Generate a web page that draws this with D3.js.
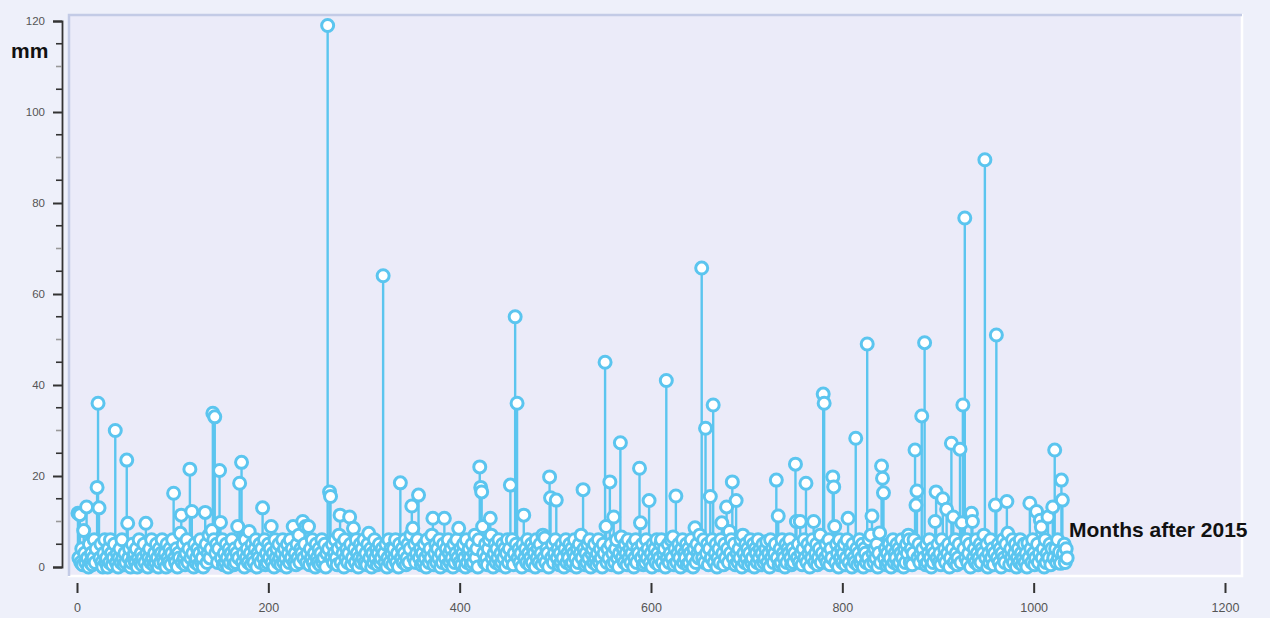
<!DOCTYPE html>
<html>
<head>
<meta charset="utf-8">
<script src="https://d3js.org/d3.v7.min.js"></script>
<style>
  html, body { margin: 0; padding: 0; background: #eef0fa; }
  svg { display: block; }
</style>
</head>
<body>
<div id="chart"></div>
<script>
// monthly rainfall (mm), one value per month starting at month 1
var rain = [
  // 1-30
  11.8, 2, 11.5, 1, 4, 0.5, 8, 3, 1, 13.2, 2, 0, 5, 1, 3, 0.5, 2, 6, 1, 4, 17.5, 36, 13, 2, 5, 1, 0, 3, 6, 1,
  // 31-60
  2, 0, 4, 1, 6, 3, 0.5, 2, 5, 30, 1, 3, 0, 2, 4, 1, 6, 2, 0.5, 3, 1, 23.5, 9.6, 2, 4, 0, 1, 5, 2, 3,
  // 61-90
  1, 4, 0, 2, 6, 1, 3, 0.5, 2, 5, 1, 9.6, 3, 0, 2, 4, 1, 6, 2, 0.5, 3, 1, 5, 2, 0, 4, 1, 3, 6, 2,
  // 91-120
  1, 3, 0, 5, 2, 1, 4, 0.5, 3, 6, 16.2, 2, 1, 4, 0, 3, 2, 7.4, 11.4, 1, 5, 2, 0.5, 3, 6, 1, 4, 21.5, 2, 12.2,
  // 121-150
  3, 0, 5, 1, 2, 4, 0.5, 3, 6, 1, 2, 0, 4, 12, 5, 1, 3, 7, 2, 4, 8, 33.8, 6, 33, 3, 5, 1, 4, 21.2, 9.8,
  // 151-180
  2, 6, 0.5, 3, 1, 5, 2, 0, 4, 1, 3, 6, 2, 0.5, 4, 1, 3, 8.9, 2, 18.4, 5, 23, 1, 3, 0, 6, 2, 4, 1, 7.8,
  // 181-210
  3, 0.5, 5, 2, 1, 4, 6, 0, 3, 2, 5, 1, 4, 13, 2, 6, 0.5, 3, 1, 5, 2, 4, 8.9, 1, 3, 0, 6, 2, 4, 1,
  // 211-240
  5, 2, 0.5, 3, 6, 1, 4, 2, 0, 5, 3, 1, 6, 2, 4, 8.9, 1, 3, 0.5, 5, 2, 7, 1, 4, 3, 10, 2, 5, 8.9, 1,
  // 241-270
  3, 8.9, 0.5, 4, 2, 6, 1, 3, 0, 5, 2, 1, 4, 0.5, 3, 6, 1, 2, 5, 0, 3, 119, 4, 16.5, 15.5, 2, 5, 1, 3, 6,
  // 271-300
  2, 0.5, 4, 7, 11.4, 1, 5, 3, 0, 6, 2, 4, 1, 3, 11, 5, 0.5, 2, 8.5, 4, 1, 6, 3, 0, 2, 5, 1, 4, 2, 6,
  // 301-330
  1, 3, 0.5, 5, 7.4, 2, 4, 0, 3, 1, 6, 2, 4, 0.5, 3, 5, 1, 2, 4, 64, 3, 1, 5, 0, 2, 6, 1, 4, 3, 0.5,
  // 331-360
  4, 2, 6, 1, 3, 0, 5, 18.5, 2, 4, 1, 3, 6, 0.5, 2, 5, 1, 4, 7, 13.4, 8.5, 2, 5, 1, 3, 6, 15.8, 2, 4, 0.5,
  // 361-390
  3, 1, 5, 2, 0, 6, 3, 1, 4, 2, 7, 10.7, 0.5, 3, 5, 1, 4, 2, 6, 0, 3, 1, 5, 10.7, 2, 4, 0.5, 6, 3, 1,
  // 391-420
  4, 2, 0, 5, 1, 3, 6, 2, 8.5, 1, 4, 0.5, 3, 5, 2, 0, 6, 1, 3, 4, 2, 0.5, 5, 1, 3, 7, 2, 4, 0, 6,
  // 421-450
  22, 17.5, 16.5, 8.9, 3, 1, 5, 2, 0.5, 4, 6, 10.7, 7, 2, 0, 3, 5, 1, 4, 2, 6, 0.5, 3, 1, 5, 2, 4, 0, 3, 6,
  // 451-480
  1, 4, 18, 2, 6, 0.5, 3, 55, 5, 36, 2, 4, 1, 3, 0, 5, 11.4, 2, 4, 1, 6, 3, 0.5, 2, 5, 1, 4, 3, 0, 6,
  // 481-510
  2, 4, 1, 5, 3, 0.5, 7, 2, 6.4, 1, 4, 3, 0, 19.8, 15.2, 2, 5, 1, 3, 6, 14.7, 2, 4, 0.5, 3, 1, 5, 2, 0, 4,
  // 511-540
  6, 1, 3, 2, 5, 0.5, 4, 1, 3, 6, 2, 0, 4, 1, 5, 3, 7, 2, 17, 4, 0.5, 3, 1, 5, 2, 6, 0, 3, 4, 1,
  // 541-570
  5, 2, 0.5, 3, 6, 1, 4, 2, 0, 5, 3, 45, 8.9, 1, 4, 2, 18.7, 5, 0.5, 3, 11, 1, 4, 6, 2, 0, 3, 27.3, 6.6, 2,
  // 571-600
  4, 1, 5, 3, 0.5, 6, 2, 4, 1, 3, 5, 0, 2, 6, 1, 4, 3, 21.7, 9.7, 2, 5, 0.5, 3, 1, 6, 2, 4, 14.6, 1, 3,
  // 601-630
  0, 5, 2, 4, 1, 6, 3, 0.5, 2, 5, 6, 1, 3, 4, 0, 41, 2, 5, 1, 3, 6, 2, 6.6, 0.5, 4, 15.6, 1, 3, 5, 2,
  // 631-660
  0, 4, 6, 1, 3, 2, 5, 0.5, 4, 1, 3, 6, 2, 0, 4, 8.6, 1, 5, 3, 2, 7, 4, 65.7, 2, 6, 1, 30.5, 3, 5, 0.5,
  // 661-690
  4, 15.5, 2, 6, 35.6, 1, 3, 5, 0, 2, 4, 1, 6, 9.7, 3, 0.5, 5, 2, 13.2, 4, 1, 7.8, 3, 6, 18.7, 2, 5, 0.5, 14.6, 3,
  // 691-720
  1, 4, 2, 6, 0, 7, 3, 1, 5, 2, 4, 0.5, 3, 6, 1, 2, 5, 0, 4, 3, 1, 6, 2, 4, 0.5, 3, 5, 1, 2, 4,
  // 721-750
  5.6, 1, 3, 0, 6, 2, 4, 1, 3, 5, 19.1, 2, 11.2, 0.5, 4, 1, 6, 3, 2, 0, 5, 1, 4, 3, 6, 2, 0.5, 4, 1, 3,
  // 751-780
  22.6, 10, 2, 5, 1, 10, 3, 0.5, 4, 6, 2, 18.4, 1, 5, 3, 0, 4, 2, 6, 10, 1, 3, 5, 0.5, 2, 4, 7, 1, 3, 38,
  // 781-810
  36, 2, 5, 1, 3, 6, 0.5, 4, 2, 19.8, 17.6, 8.9, 1, 5, 3, 0, 6, 2, 4, 1, 3, 5, 0.5, 2, 6, 10.7, 1, 4, 3, 0,
  // 811-840
  5, 2, 1, 28.3, 4, 0.5, 3, 6, 1, 2, 5, 0, 4, 3, 1, 49, 2, 6, 0.5, 7, 11.2, 3, 1, 4, 2, 5, 0, 3, 7.5, 1,
  // 841-870
  22.2, 19.5, 16.3, 2, 4, 0.5, 3, 1, 5, 2, 0, 4, 6, 1, 3, 2, 5, 0.5, 4, 1, 3, 6, 2, 0, 4, 1, 5, 3, 7, 6,
  // 871-900
  1, 4, 0.5, 3, 6, 25.7, 13.6, 16.7, 2, 5, 1, 3, 33.2, 4, 2, 49.3, 0.5, 5, 1, 3, 6, 2, 0, 4, 1, 3, 10, 16.5, 2, 5,
  // 901-930
  1, 3, 0.5, 6, 15, 2, 4, 1, 12.7, 3, 5, 0, 2, 27.2, 4, 11, 1, 6, 3, 0.5, 2, 5, 25.9, 1, 9.7, 35.6, 4, 76.7, 2, 6,
  // 931-960
  1, 3, 5, 0, 11.8, 10, 2, 4, 1, 6, 3, 0.5, 2, 5, 1, 4, 3, 7, 89.5, 2, 5, 0, 3, 1, 6, 2, 4, 0.5, 3, 13.6,
  // 961-990
  51, 2, 5, 1, 4, 0, 3, 6, 2, 1, 5, 14.4, 7.4, 3, 0.5, 4, 2, 6, 1, 3, 5, 0, 2, 4, 1, 6, 3, 0.5, 2, 5,
  // 991-1020
  1, 3, 0, 5.3, 2, 14, 4, 1, 6, 3, 0.5, 2, 12.2, 5, 1, 3, 10.3, 8.8, 2, 4, 0, 6, 1, 3, 11, 2, 5, 0.5, 4, 13.2,
  // 1021-1035
  2, 25.7, 4, 1, 6, 2, 3.3, 0.8, 19.1, 14.7, 3, 5, 1, 4, 2
];

var xTicks = [0, 200, 400, 600, 800, 1000, 1200];
var yTicks = [0, 20, 40, 60, 80, 100, 120];
var yLabel = 'mm';
var xLabel = 'Months after 2015';

var width = 1270;
var height = 618;
var blue = '#5bc5ef';
var font = 'Liberation Sans, Arial, sans-serif';

var data = rain.map(function(v, i) { return { month: i + 1, value: v }; });

var x = d3.scaleLinear().domain([0, 1200]).range([77, 1225]);
var y = d3.scaleLinear().domain([0, 120]).range([567, 21]);

var svg = d3.select('#chart').append('svg')
  .attr('width', width)
  .attr('height', height)
  .attr('viewBox', '0 0 ' + width + ' ' + height);

svg.append('rect')
  .attr('width', width)
  .attr('height', height)
  .attr('fill', '#eef0fa');

// plot panel
svg.append('rect')
  .attr('x', 68)
  .attr('y', 14)
  .attr('width', 1174)
  .attr('height', 561)
  .attr('fill', '#ebebf9');
svg.append('path')
  .attr('d', 'M 1242,14 L 1242,576 L 68,576')
  .attr('fill', 'none')
  .attr('stroke', '#ffffff')
  .attr('stroke-width', 2.5);
svg.append('path')
  .attr('d', 'M 69,576 L 69,15 L 1242,15')
  .attr('fill', 'none')
  .attr('stroke', '#c3cbe6')
  .attr('stroke-width', 2.5);

// y axis
var yAxis = svg.append('g')
  .attr('transform', 'translate(62,0)')
  .call(d3.axisLeft(y).tickValues(yTicks).tickSize(9).tickPadding(8));
yAxis.select('.domain').attr('stroke', '#333').attr('stroke-width', 1.8);
yAxis.selectAll('.tick line').attr('stroke', '#333').attr('stroke-width', 2);
yAxis.selectAll('.tick text')
  .attr('fill', '#555')
  .attr('font-family', font)
  .attr('font-size', 11.5);

var minor = d3.range(5, 120, 5).filter(function(v) { return v % 20 !== 0; });
svg.append('g')
  .selectAll('line')
  .data(minor)
  .enter().append('line')
  .attr('x1', 56)
  .attr('x2', 62)
  .attr('y1', function(d) { return y(d); })
  .attr('y2', function(d) { return y(d); })
  .attr('stroke', function(d) { return d % 10 === 0 ? '#999' : '#333'; })
  .attr('stroke-width', 1.6);

// x axis
var xAxis = svg.append('g')
  .attr('transform', 'translate(0,593)')
  .call(d3.axisTop(x).tickValues(xTicks).tickSize(10).tickFormat(d3.format('d')));
xAxis.select('.domain').remove();
xAxis.selectAll('.tick line').attr('stroke', '#333').attr('stroke-width', 2);
xAxis.selectAll('.tick text')
  .attr('y', 10)
  .attr('dy', '0.71em')
  .attr('fill', '#555')
  .attr('font-family', font)
  .attr('font-size', 12.5);

// stems first, then heads
svg.append('g')
  .selectAll('line')
  .data(data)
  .enter().append('line')
  .attr('x1', function(d) { return x(d.month); })
  .attr('x2', function(d) { return x(d.month); })
  .attr('y1', y(0))
  .attr('y2', function(d) { return y(d.value); })
  .attr('stroke', blue)
  .attr('stroke-width', 2.4);

svg.append('g')
  .selectAll('circle')
  .data(data)
  .enter().append('circle')
  .attr('cx', function(d) { return x(d.month); })
  .attr('cy', function(d) { return y(d.value); })
  .attr('r', 6)
  .attr('fill', '#ffffff')
  .attr('stroke', blue)
  .attr('stroke-width', 3);

svg.append('text')
  .attr('x', 11)
  .attr('y', 58)
  .attr('font-family', font)
  .attr('font-weight', 'bold')
  .attr('font-size', 21)
  .attr('fill', '#111')
  .text(yLabel);

svg.append('text')
  .attr('x', 1069)
  .attr('y', 537)
  .attr('font-family', font)
  .attr('font-weight', 'bold')
  .attr('font-size', 21)
  .attr('fill', '#111')
  .text(xLabel);
</script>
</body>
</html>
